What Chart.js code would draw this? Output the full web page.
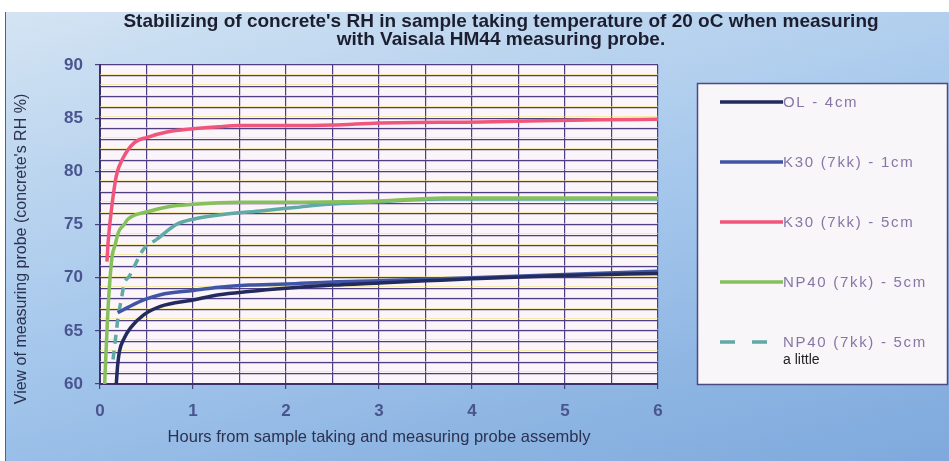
<!DOCTYPE html>
<html>
<head>
<meta charset="utf-8">
<script src="https://cdn.jsdelivr.net/npm/chart.js@4.4.1/dist/chart.umd.min.js"></script>
<style>
  html, body { margin: 0; padding: 0; background: #fff; }
  #wrap { position: relative; width: 949px; height: 461px; overflow: hidden; }
  #paper {
    position: absolute; left: 5px; top: 12px; right: 0; bottom: 0;
    border-left: 1px solid #5a5f7a;
    background: linear-gradient(165deg, #d4e4f3 0%, #c2d9f0 18%, #a5c7ec 50%, #8cb4e2 80%, #7fa9dd 100%);
  }
  #box { position: absolute; left: 0; top: 0; width: 949px; height: 461px; }
</style>
</head>
<body>
<div id="wrap">
  <div id="paper"></div>
  <div id="box"><canvas id="rhChart"></canvas></div>
</div>
<script>
// texts
const chartTitle = [
  "Stabilizing of concrete's RH in sample taking temperature of 20 oC when measuring",
  "with Vaisala HM44 measuring probe."
];
const xTitle = "Hours from sample taking and measuring probe assembly";
const yTitle = "View of measuring probe (concrete's RH %)";
const seriesLabels = [
  ["OL - 4cm"],
  ["K30 (7kk) - 1cm"],
  ["K30 (7kk) - 5cm"],
  ["NP40 (7kk) - 5cm"],
  ["NP40 (7kk) - 5cm", "a little"]
];

// axis ticks
const xTicks = [0, 1, 2, 3, 4, 5, 6];
const yTicks = [60, 65, 70, 75, 80, 85, 90];

// OL - 4cm
const olHours = [0.175, 0.19, 0.21, 0.26, 0.33, 0.47, 0.65, 1.0, 1.28, 1.6, 2.0, 2.5, 3.0, 3.5, 4.0, 5.0, 6.0];
const olRH    = [60, 61.8, 63.1, 64.3, 65.3, 66.5, 67.3, 67.9, 68.4, 68.7, 69.0, 69.3, 69.5, 69.7, 69.9, 70.2, 70.4];

// K30 (7kk) - 1cm
const k30aHours = [0.19, 0.3, 0.47, 0.65, 1.0, 1.28, 1.6, 2.0, 2.5, 3.0, 4.0, 5.0, 6.0];
const k30aRH    = [66.7, 67.2, 67.9, 68.4, 68.8, 69.1, 69.3, 69.4, 69.6, 69.7, 70.0, 70.3, 70.6];

// K30 (7kk) - 5cm
const k30bHours = [0.075, 0.087, 0.123, 0.176, 0.245, 0.37, 0.51, 0.72, 1.0, 1.28, 1.5, 2.0, 2.5, 3.0, 4.1, 5.4, 6.0];
const k30bRH    = [71.5, 73.3, 76.4, 79.6, 81.2, 82.7, 83.2, 83.7, 84.0, 84.2, 84.3, 84.3, 84.35, 84.55, 84.65, 84.85, 84.9];

// NP40 (7kk) - 5cm
const np40Hours = [0.05, 0.08, 0.1, 0.13, 0.16, 0.2, 0.26, 0.3, 0.51, 0.75, 1.0, 1.28, 1.5, 2.2, 3.0, 3.7, 4.5, 6.0];
const np40RH    = [60, 66, 69, 72, 73, 74.3, 75.0, 75.5, 76.2, 76.7, 76.9, 77.05, 77.1, 77.1, 77.2, 77.5, 77.5, 77.5];

// NP40 (7kk) - 5cm a little
const np40lHours = [0.14, 0.17, 0.19, 0.23, 0.26, 0.32, 0.36, 0.47, 0.61, 0.82, 1.0, 1.28, 1.75, 2.1, 2.45, 2.9, 3.7, 6.0];
const np40lRH    = [62.3, 64.5, 66.0, 68.0, 69.4, 70.2, 70.9, 72.7, 73.6, 75.0, 75.5, 75.9, 76.3, 76.6, 76.9, 77.1, 77.4, 77.4];

const lineColors = ["#232a5e", "#3f56a6", "#f0567c", "#86c05a", "#5fa9a6"];
const legendDash = [[], [], [], [], [15, 17]];

const toPoints = (hours, rh) => hours.map((h, i) => ({ x: h, y: rh[i] }));

// plot background + yellow print shadow on the grid
const paperPlugin = {
  id: "paper",
  beforeDraw(chart) {
    const { ctx, chartArea: a } = chart;
    ctx.save();
    ctx.fillStyle = "#fbf4f8";
    ctx.fillRect(a.left, a.top, a.right - a.left, a.bottom - a.top);
    ctx.restore();
  },
  beforeDatasetsDraw(chart) {
    const { ctx, chartArea: a, scales } = chart;
    ctx.save();
    ctx.strokeStyle = "rgba(236, 226, 110, 0.55)";
    ctx.lineWidth = 1;
    for (let v = 61; v <= 90; v++) {
      const y = Math.round(scales.y.getPixelForValue(v)) - 1.5;
      ctx.beginPath();
      ctx.moveTo(a.left, y);
      ctx.lineTo(a.right, y);
      ctx.stroke();
    }
    ctx.restore();
  }
};

// title, y title and the boxed legend
const textPlugin = {
  id: "scanText",
  afterDraw(chart) {
    const ctx = chart.ctx;
    ctx.save();
    ctx.fillStyle = "#1c1e30";
    ctx.textAlign = "center";
    ctx.textBaseline = "middle";
    ctx.font = 'bold 19px "Liberation Sans", Arial, sans-serif';
    chartTitle.forEach((line, i) => ctx.fillText(line, 501, 22 + i * 18));

    ctx.save();
    ctx.translate(22, 249);
    ctx.rotate(-Math.PI / 2);
    ctx.font = '16px "Liberation Sans", Arial, sans-serif';
    ctx.fillStyle = "#2c3150";
    ctx.fillText(yTitle, 0, 0);
    ctx.restore();

    // legend box
    ctx.fillStyle = "#f8f6f9";
    ctx.fillRect(697, 83, 250, 301);
    ctx.strokeStyle = "#4b4b82";
    ctx.lineWidth = 1.5;
    ctx.strokeRect(697.5, 83.5, 250, 301);

    ctx.textAlign = "left";
    chart.data.datasets.forEach((ds, i) => {
      const y = 102 + i * 60;
      ctx.strokeStyle = ds.borderColor;
      ctx.lineWidth = 3.5;
      ctx.setLineDash(legendDash[i]);
      ctx.beginPath();
      ctx.moveTo(720, y);
      ctx.lineTo(783, y);
      ctx.stroke();
      ctx.setLineDash([]);
      const lines = seriesLabels[i];
      ctx.font = '15px "Liberation Sans", Arial, sans-serif';
      ctx.letterSpacing = "1.7px";
      ctx.fillStyle = "#8676a6";
      ctx.fillText(lines[0], 783, y + 1);
      if (lines[1]) {
        ctx.letterSpacing = "0px";
        ctx.font = '14px "Liberation Sans", Arial, sans-serif';
        ctx.fillStyle = "#222";
        ctx.fillText(lines[1], 783, y + 18);
      }
    });
    ctx.restore();
  }
};

const ctx = document.getElementById("rhChart").getContext("2d");
new Chart(ctx, {
  type: "line",
  data: {
    datasets: [
      { label: seriesLabels[0][0], data: toPoints(olHours, olRH), borderColor: lineColors[0] },
      { label: seriesLabels[1][0], data: toPoints(k30aHours, k30aRH), borderColor: lineColors[1] },
      { label: seriesLabels[2][0], data: toPoints(k30bHours, k30bRH), borderColor: lineColors[2] },
      { label: seriesLabels[3][0], data: toPoints(np40Hours, np40RH), borderColor: lineColors[3] },
      {
        label: seriesLabels[4].join(" "), data: toPoints(np40lHours, np40lRH), borderColor: lineColors[4],
        segment: { borderDash: (c) => (c.p0.parsed.x < 0.6 ? [9, 7] : undefined) }
      }
    ]
  },
  options: {
    responsive: true,
    maintainAspectRatio: false,
    animation: false,
    layout: { padding: { top: 65, right: 291, left: 0, bottom: 0 } },
    elements: {
      point: { radius: 0 },
      line: { borderWidth: 3.5, tension: 0.3, cubicInterpolationMode: "monotone" }
    },
    plugins: { legend: { display: false }, tooltip: { enabled: false } },
    scales: {
      x: {
        type: "linear",
        min: 0, max: 6,
        afterFit: (s) => { s.height = 77; },
        afterBuildTicks: (s) => { s.ticks = []; for (let v = 0; v <= 6; v += 0.5) s.ticks.push({ value: v }); },
        ticks: {
          autoSkip: false,
          maxRotation: 0,
          padding: 12,
          color: "#4a5590",
          font: { family: '"Liberation Sans", Arial, sans-serif', size: 17, weight: "bold" },
          callback: (v) => (xTicks.includes(v) ? v : "")
        },
        grid: {
          color: "#4d3f82", lineWidth: 1.2, tickLength: 5,
          tickColor: (c) => (xTicks.includes(c.tick.value) ? "#4d3f82" : "rgba(0,0,0,0)")
        },
        border: { color: "#3b2f6c", width: 2 },
        title: {
          display: true, text: xTitle, color: "#2c3150",
          font: { family: '"Liberation Sans", Arial, sans-serif', size: 16.5 },
          padding: { bottom: 14 }
        }
      },
      y: {
        min: 60, max: 90,
        afterFit: (s) => { s.width = 100; },
        afterBuildTicks: (s) => { s.ticks = []; for (let v = 60; v <= 90; v++) s.ticks.push({ value: v }); },
        ticks: {
          autoSkip: false,
          padding: 12,
          color: "#4a5590",
          font: { family: '"Liberation Sans", Arial, sans-serif', size: 17, weight: "bold" },
          callback: (v) => (yTicks.includes(v) ? v : "")
        },
        grid: {
          color: "#4d3f82", lineWidth: 1.2, tickLength: 5,
          tickColor: (c) => (yTicks.includes(c.tick.value) ? "#4d3f82" : "rgba(0,0,0,0)")
        },
        border: { color: "#3b2f6c", width: 2 }
      }
    }
  },
  plugins: [paperPlugin, textPlugin]
});
</script>
</body>
</html>
